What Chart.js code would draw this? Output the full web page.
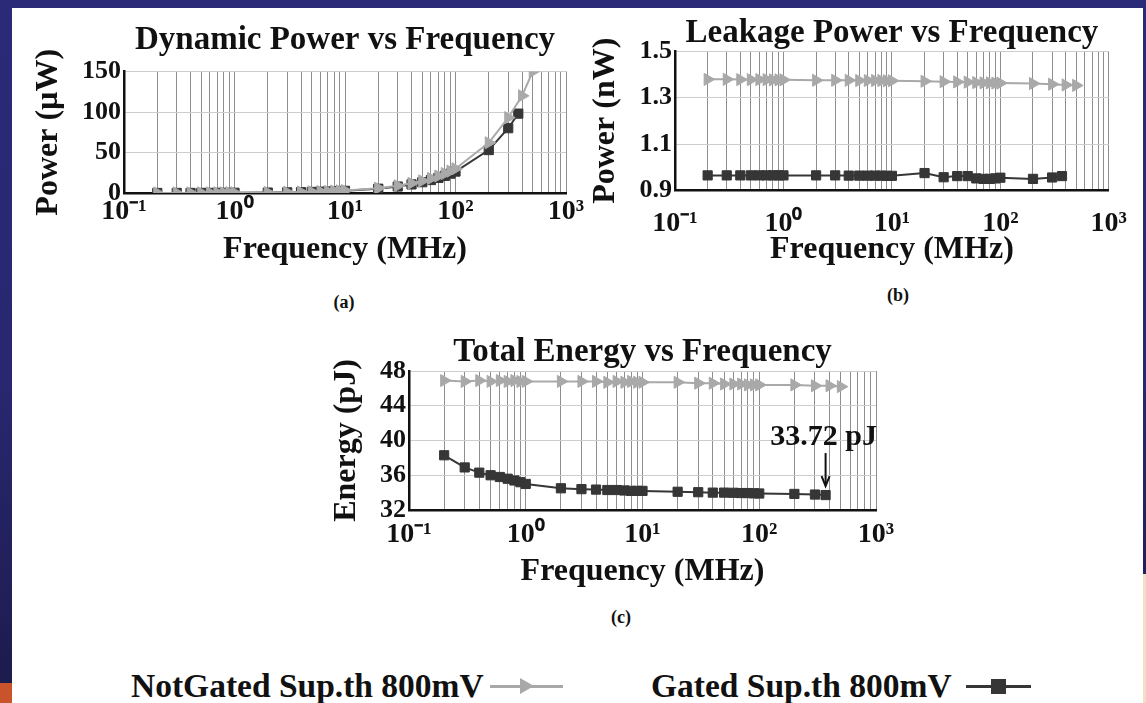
<!DOCTYPE html>
<html>
<head>
<meta charset="utf-8">
<script src="https://cdn.jsdelivr.net/npm/chart.js@4/dist/chart.umd.min.js"></script>
<style>
html,body{margin:0;padding:0;}
body{width:1146px;height:703px;position:relative;overflow:hidden;
  background:linear-gradient(#2b2a79 0%,#28276f 55%,#1c1b4c 100%);
  font-family:'Liberation Serif','Times New Roman',serif;color:#111;}
#panel{position:absolute;left:12px;top:8px;width:1131px;height:695px;background:#fff;}
#orange{position:absolute;left:0;top:683px;width:12px;height:20px;background:#c9532b;}
#rightlow{position:absolute;left:1143px;top:574px;width:3px;height:129px;background:#f1dfc4;}
canvas{position:absolute;}
.sub{position:absolute;font-weight:bold;font-size:18px;transform:translate(-50%,-50%);white-space:nowrap;}
.lgtext{position:absolute;font-weight:bold;font-size:33.5px;line-height:34px;white-space:nowrap;transform:translateY(-50%);}
.lgline{position:absolute;height:3px;}
.tri{position:absolute;width:0;height:0;border-top:8px solid transparent;border-bottom:8px solid transparent;border-left:14px solid #a8a8a8;}
.sq{position:absolute;width:15px;height:15px;background:#363636;}
</style>
</head>
<body>
<div id="panel"></div>
<div id="orange"></div>
<div id="rightlow"></div>

<canvas id="cA" width="570" height="280" style="left:20px;top:0px;"></canvas>
<canvas id="cB" width="553" height="280" style="left:590px;top:0px;"></canvas>
<canvas id="cC" width="580" height="280" style="left:330px;top:320px;"></canvas>

<div class="sub" style="left:344px;top:302px;">(a)</div>
<div class="sub" style="left:898px;top:295px;">(b)</div>
<div class="sub" style="left:621px;top:617px;">(c)</div>

<div class="lgtext" style="left:131px;top:686px;">NotGated Sup.th 800mV</div>
<div class="lgline" style="left:490px;top:685px;width:73px;background:#a8a8a8;"></div>
<div class="tri" style="left:520px;top:678px;"></div>
<div class="lgtext" style="left:651px;top:686px;">Gated Sup.th 800mV</div>
<div class="lgline" style="left:966px;top:685px;width:65px;background:#363636;"></div>
<div class="sq" style="left:991px;top:679px;"></div>

<script>
// ---------------- data ----------------
const seriesNames = ['NotGated Sup.th 800mV', 'Gated Sup.th 800mV'];

const freqNotGated = [0.2,0.3,0.4,0.5,0.6,0.7,0.8,0.9,1, 2,3,4,5,6,7,8,9,10, 20,30,40,50,60,70,80,90,100, 200,300,400,500];
const freqGated    = [0.2,0.3,0.4,0.5,0.6,0.7,0.8,0.9,1, 2,3,4,5,6,7,8,9,10, 20,30,40,50,60,70,80,90,100, 200,300,370];

// (a) Dynamic power, uW
const dynNotGated = [0.06,0.09,0.12,0.15,0.18,0.21,0.24,0.27,0.3, 0.6,0.9,1.2,1.5,1.8,2.1,2.4,2.7,3.0, 6,9,12,15,18,21,24,27,30, 62,93,120,150];
const dynGated    = [0.05,0.08,0.11,0.13,0.16,0.19,0.21,0.24,0.27, 0.53,0.8,1.06,1.33,1.6,1.86,2.1,2.4,2.65, 5.3,8,10.6,13.3,16,18.6,21.2,23.9,26.5, 53,80,98];

// (b) Leakage power, nW
const leakNotGated = [1.378,1.378,1.377,1.377,1.377,1.377,1.376,1.376,1.376, 1.374,1.374,1.374,1.373,1.373,1.373,1.373,1.372,1.372, 1.370,1.368,1.367,1.366,1.364,1.363,1.363,1.362,1.362, 1.360,1.357,1.354,1.352];
const leakGated    = [0.965,0.965,0.965,0.965,0.965,0.965,0.965,0.965,0.965, 0.965,0.965,0.964,0.964,0.964,0.964,0.964,0.963,0.963, 0.975,0.957,0.962,0.962,0.952,0.950,0.950,0.952,0.955, 0.950,0.956,0.962];

// (c) Total energy, pJ
const energyNotGated = [46.9,46.8,46.9,46.8,46.9,46.8,46.9,46.8,46.8, 46.8,46.8,46.8,46.7,46.8,46.7,46.8,46.7,46.7, 46.7,46.6,46.6,46.5,46.5,46.5,46.4,46.4,46.4, 46.4,46.3,46.3,46.2];
const energyGated    = [38.3,36.9,36.3,36.0,35.8,35.6,35.4,35.2,35.0, 34.5,34.4,34.35,34.3,34.3,34.25,34.2,34.2,34.2, 34.1,34.05,34.0,34.0,33.98,33.95,33.95,33.92,33.9, 33.85,33.78,33.72];

// ticks
const xDecades = [0.1, 1, 10, 100, 1000];
const xTickLabels = ['10\u207B\u00B9','10\u2070','10\u00B9','10\u00B2','10\u00B3'];
const yTicksA = [0, 50, 100, 150];
const yTickLabelsA = ['0','50','100','150'];
const yTicksB = [0.9, 1.1, 1.3, 1.5];
const yTickLabelsB = ['0.9','1.1','1.3','1.5'];
const yTicksC = [32, 36, 40, 44, 48];
const yTickLabelsC = ['32','36','40','44','48'];

const titles = ['Dynamic Power vs Frequency','Leakage Power vs Frequency','Total Energy vs Frequency'];
const yTitles = ['Power (\u00B5W)','Power (nW)','Energy (pJ)'];
const xTitle = 'Frequency (MHz)';
const annotationText = '33.72 pJ';

// ---------------- helpers ----------------
Chart.defaults.font.family = "'Liberation Serif','Times New Roman',serif";
Chart.defaults.color = '#111';

const xGridValues = [];
for (let i = 0; i < xDecades.length - 1; i++) {
  for (let m = 1; m <= 9; m++) xGridValues.push(xDecades[i] * m);
}
xGridValues.push(xDecades[xDecades.length - 1]);

function xLabel(v) {
  for (let i = 0; i < xDecades.length; i++) {
    if (Math.abs(v - xDecades[i]) < xDecades[i] * 1e-6) return xTickLabels[i];
  }
  return '';
}

function pts(xs, ys) { return xs.map((x, i) => ({x: x, y: ys[i]})); }

function makeChart(id, L) {
  const ngData = pts(freqNotGated, L.ng), gData = pts(freqGated, L.g);
  return new Chart(document.getElementById(id), {
    type: 'line',
    data: {
      datasets: [
        {label: seriesNames[0], data: ngData, borderColor: '#a9a9a9', backgroundColor: '#a9a9a9',
         borderWidth: 2, pointStyle: 'triangle', pointRotation: 90, pointRadius: 7,
         pointBorderWidth: 1, tension: 0},
        {label: seriesNames[1], data: gData, borderColor: '#363636', backgroundColor: '#363636',
         borderWidth: 2, pointStyle: 'rect', pointRadius: 6.5, pointBorderWidth: 1, tension: 0}
      ]
    },
    options: {
      responsive: false, animation: false, devicePixelRatio: 1,
      layout: {padding: {left: 0, top: 0, bottom: 0, right: L.padRight}},
      plugins: {
        legend: {display: false}, tooltip: {enabled: false},
        title: {display: true, fullSize: false, text: L.title, color: '#111',
                font: {size: 33, weight: 'bold', lineHeight: 1},
                padding: {top: L.titleTop, bottom: L.titleBottom}}
      },
      scales: {
        x: {
          type: 'logarithmic', min: 0.1, max: 1000, position: 'bottom',
          afterBuildTicks: s => { s.ticks = xGridValues.map(v => ({value: v})); },
          afterFit: s => { s.height = L.xHeight; },
          ticks: {autoSkip: false, maxRotation: 0, minRotation: 0, padding: L.xTickPad,
                  font: {size: 28, weight: 'bold'}, color: '#111', callback: v => xLabel(v)},
          grid: {color: '#8e8e8e', lineWidth: 1, drawTicks: false},
          border: {display: true, color: '#111', width: 2.5},
          title: {display: true, text: xTitle, color: '#111',
                  font: {size: 32, weight: 'bold', lineHeight: 1},
                  padding: {top: 0, bottom: L.xTitlePad}}
        },
        y: {
          type: 'linear', min: L.yTicks[0], max: L.yTicks[L.yTicks.length - 1],
          afterBuildTicks: s => { s.ticks = L.yTicks.map(v => ({value: v})); },
          afterFit: s => { s.width = L.yWidth; },
          ticks: {autoSkip: false, padding: 3, font: {size: 26, weight: 'bold'}, color: '#111',
                  callback: (v, i) => L.yLabels[i]},
          grid: {color: '#cdcdcd', lineWidth: 1, drawTicks: false},
          border: {display: true, color: '#111', width: 2.5},
          title: {display: true, text: L.yTitle, color: '#111',
                  font: {size: 32, weight: 'bold', lineHeight: 1},
                  padding: {top: L.yTitlePad, bottom: 0}}
        }
      }
    },
    plugins: L.plugins || []
  });
}

const energyNote = {
  id: 'energyNote',
  afterDatasetsDraw(chart) {
    const meta = chart.getDatasetMeta(1);
    const p = meta.data[meta.data.length - 1];
    const ctx = chart.ctx;
    ctx.save();
    ctx.strokeStyle = '#111'; ctx.fillStyle = '#111'; ctx.lineWidth = 2;
    ctx.beginPath(); ctx.moveTo(p.x, p.y - 42); ctx.lineTo(p.x, p.y - 10); ctx.stroke();
    ctx.beginPath(); ctx.moveTo(p.x - 4, p.y - 19); ctx.lineTo(p.x, p.y - 9); ctx.lineTo(p.x + 4, p.y - 19); ctx.stroke();
    ctx.font = "bold 30px 'Liberation Serif','Times New Roman',serif";
    ctx.textAlign = 'center'; ctx.textBaseline = 'middle';
    ctx.fillText(annotationText, p.x - 2, p.y - 58);
    ctx.restore();
  }
};

makeChart('cA', {ng: dynNotGated, g: dynGated, title: titles[0], yTitle: yTitles[0],
  yTicks: yTicksA, yLabels: yTickLabelsA, padRight: 24,
  titleTop: 23.5, titleBottom: 15, yWidth: 104, yTitlePad: 13,
  xHeight: 87, xTickPad: 2, xTitlePad: 14});

makeChart('cB', {ng: leakNotGated, g: leakGated, title: titles[1], yTitle: yTitles[1],
  yTicks: yTicksB, yLabels: yTickLabelsB, padRight: 34,
  titleTop: 16.5, titleBottom: 1.5, yWidth: 85, yTitlePad: 0,
  xHeight: 89.5, xTickPad: 16, xTitlePad: 14});

makeChart('cC', {ng: energyNotGated, g: energyGated, title: titles[2], yTitle: yTitles[2],
  yTicks: yTicksC, yLabels: yTickLabelsC, padRight: 34,
  titleTop: 15.5, titleBottom: 2.5, yWidth: 79, yTitlePad: 1,
  xHeight: 90, xTickPad: 8, xTitlePad: 12, plugins: [energyNote]});
</script>
</body>
</html>
